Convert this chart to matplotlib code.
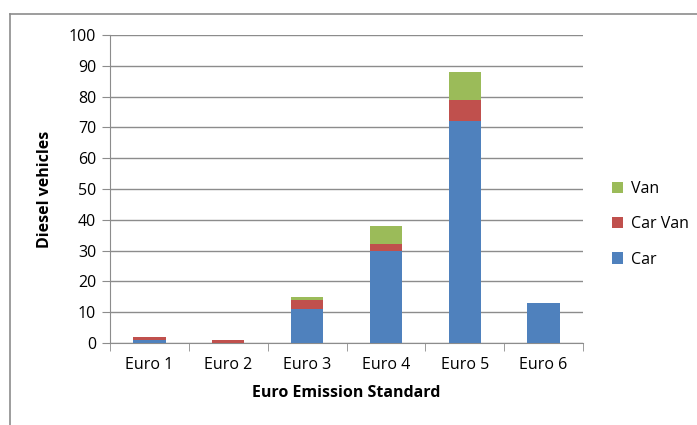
import matplotlib.pyplot as plt
from matplotlib.lines import Line2D
import numpy as np

categories = ['Euro 1', 'Euro 2', 'Euro 3', 'Euro 4', 'Euro 5', 'Euro 6']
car = [1, 0, 11, 30, 72, 13]
car_van = [1, 1, 3, 2, 7, 0]
van = [0, 0, 1, 6, 9, 0]

plt.rcParams['font.family'] = ['Open Sans', 'DejaVu Sans']

fig = plt.figure(figsize=(6.97, 4.25), dpi=100)
ax = fig.add_axes([110 / 697, 1 - 343 / 425, 473 / 697, 308 / 425])

x = np.arange(len(categories))
w = 0.41
car_b = np.array(car)
cv_b = car_b + np.array(car_van)
ax.bar(x, car, w, color='#4f81bd', label='Car', zorder=3)
ax.bar(x, car_van, w, bottom=car_b, color='#c0504d', label='Car Van', zorder=3)
ax.bar(x, van, w, bottom=cv_b, color='#9bbb59', label='Van', zorder=3)

ax.set_xlim(-0.5, 5.5)
ax.set_ylim(0, 100)
ax.set_yticks(range(0, 101, 10))
ax.yaxis.grid(True, color='#8c8c8c', linewidth=1)
ax.set_axisbelow(True)
for s in ['top', 'right']:
    ax.spines[s].set_visible(False)
ax.spines['left'].set_color('#8c8c8c')
ax.spines['bottom'].set_color('#8c8c8c')

ax.set_xticks(x)
ax.set_xticklabels(categories)
ax.set_xticks(np.arange(-0.5, 6, 1), minor=True)
ax.tick_params(axis='x', which='major', length=0, pad=10, labelsize=11.5)
ax.tick_params(axis='x', which='minor', length=6, color='#8c8c8c')
ax.tick_params(axis='y', length=6, color='#8c8c8c', labelsize=11.5, pad=4)

ax.set_xlabel('Euro Emission Standard', fontweight='bold', fontsize=11.5, labelpad=9)
ax.set_ylabel('Diesel vehicles', fontweight='bold', fontsize=11.5, labelpad=11)

h, l = ax.get_legend_handles_labels()
ax.legend(h[::-1], l[::-1], loc='center left', bbox_to_anchor=(1.03, 0.385),
          frameon=False, fontsize=11.5, handlelength=0.7, handleheight=0.7,
          labelspacing=1.2, handletextpad=0.5)

fig.add_artist(Line2D([10 / 697, 10 / 697], [0, 1 - 14 / 425], color='#8c8c8c', linewidth=1.2))
fig.add_artist(Line2D([10 / 697, 1], [1 - 14 / 425, 1 - 14 / 425], color='#8c8c8c', linewidth=1.2))

fig.savefig('out.png', dpi=100)
